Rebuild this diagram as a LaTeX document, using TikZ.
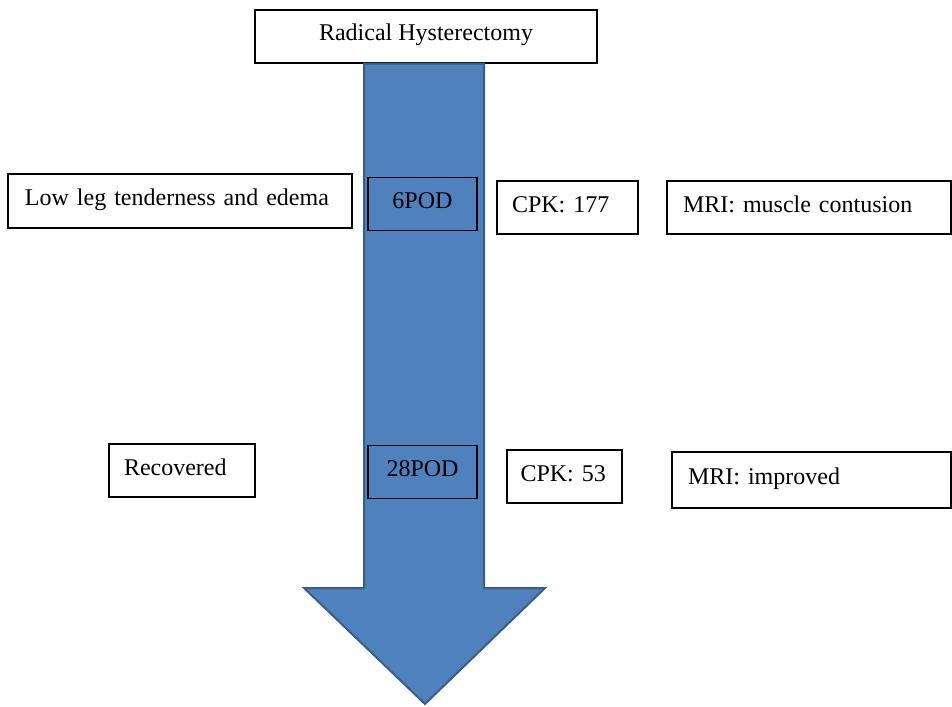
\documentclass[tikz,border=0pt]{standalone}
\usepackage{fontspec}
\setmainfont{Liberation Serif}
\usetikzlibrary{positioning}
\definecolor{arrowfill}{HTML}{4F81BD}
\definecolor{arrowline}{HTML}{385D8A}
\begin{document}
\begin{tikzpicture}[x=0.5pt,y=-0.5pt,
    box/.style={draw, line width=0.6pt, fill=white, inner sep=0pt,
                text height=8.5pt, text depth=4pt,
                font=\fontsize{12}{14}\selectfont},
    lbox/.style={box, align=left, text width=#1},
    pod/.style={box, fill=arrowfill, minimum width=54.5pt, minimum height=26.5pt}]
  \useasboundingbox (0,0) rectangle (952,706);

  \node[box, minimum width=171pt, minimum height=26.5pt] (top) at (426,36.5) {Radical Hysterectomy};

  % timeline arrow
  \draw[arrowline, line width=1pt, fill=arrowfill]
    (top.south -| 364,0) -- (364,588) -- (304,588) -- (425,704)
    -- (545,588) -- (484,588) -- (top.south -| 484,0) -- cycle;

  \node[pod] (pod6) at (422.5,204) {6POD};
  \node[pod] (pod28) at (422.5,472) {28POD};

  \node[lbox=155pt, minimum height=27pt, inner xsep=8.5pt] (leg) at (180,201) {Low leg tenderness and edema};
  \node[lbox=55.5pt, minimum height=26.5pt, inner xsep=7.5pt] (cpk1) at (567.5,207.5) {CPK:~177};
  \node[lbox=126pt, minimum height=26.5pt, inner xsep=8pt] (mri1) at (809,207.5) {MRI: muscle contusion};

  \node[lbox=58pt, minimum height=26.5pt, inner xsep=7.5pt] (rec) at (182,470.5) {Recovered};
  \node[lbox=44pt, minimum height=26.5pt, inner xsep=6.75pt] (cpk2) at (564.5,476.5) {CPK:~53};
  \node[lbox=123.5pt, minimum height=28pt, inner xsep=8pt] (mri2) at (811.5,480) {MRI: improved};
\end{tikzpicture}
\end{document}
